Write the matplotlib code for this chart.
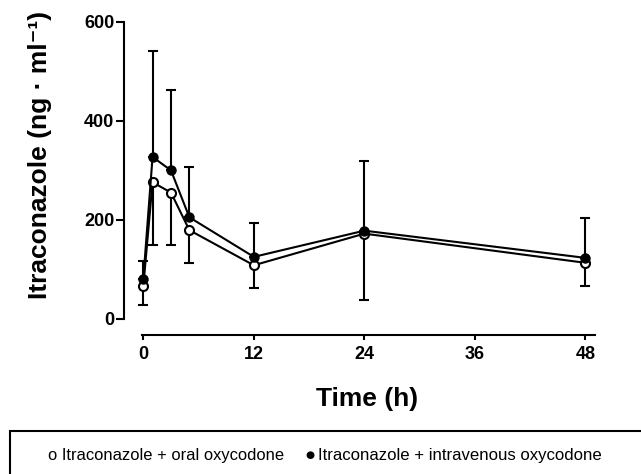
import matplotlib
matplotlib.use("Agg")
import matplotlib.pyplot as plt
from matplotlib.patches import Rectangle

plt.rcParams['font.family'] = ['Liberation Sans', 'DejaVu Sans']

# data (mean, one-sided SD)
time_h = [0, 1, 3, 5, 12, 24, 48]
oral_mean = [66, 276, 255, 179, 108, 172, 113]
oral_sd = [39, 127, 106, 67, 45, 135, 46]
iv_mean = [81, 327, 300, 205, 125, 178, 123]
iv_sd = [36, 214, 162, 102, 69, 141, 80]

x_ticks = [0, 12, 24, 36, 48]
y_ticks = [0, 200, 400, 600]

fig = plt.figure(figsize=(6.41, 4.74), dpi=100)
ax = fig.add_axes([124 / 641, 139 / 474, 471 / 641, 313 / 474])

zeros = [0] * len(time_h)

# open circles: error bars downward
ax.errorbar(time_h, oral_mean, yerr=[oral_sd, zeros], fmt='o', color='black',
            ecolor='black', elinewidth=1.5, capsize=3.6, capthick=1.5,
            markersize=6.5, markerfacecolor='white', markeredgecolor='black',
            markeredgewidth=1.5, linestyle='-', linewidth=1.5, zorder=3)
# filled circles: error bars upward
ax.errorbar(time_h, iv_mean, yerr=[zeros, iv_sd], fmt='o', color='black',
            ecolor='black', elinewidth=1.5, capsize=3.6, capthick=1.5,
            markersize=6.5, markerfacecolor='black', markeredgecolor='black',
            linestyle='-', linewidth=1.5, zorder=4)

ax.set_xlim(-2.1, 49.05)
ax.set_ylim(-33, 600)
ax.set_xticks(x_ticks)
ax.set_yticks(y_ticks)

for s in ['top', 'right']:
    ax.spines[s].set_visible(False)
ax.spines['left'].set_linewidth(1.5)
ax.spines['bottom'].set_linewidth(1.5)
ax.spines['left'].set_bounds(0, 600)
ax.spines['bottom'].set_bounds(-0.15, 49.05)

ax.tick_params(axis='y', length=5.5, width=1.5, pad=1.5, labelsize=13)
ax.tick_params(axis='x', length=3.8, width=1.5, pad=4, labelsize=13)
for lab in ax.get_xticklabels() + ax.get_yticklabels():
    lab.set_fontweight('bold')

fig.text(367 / 641, (474 - 406) / 474, 'Time (h)', ha='center', va='baseline',
         fontsize=19, fontweight='bold')
fig.text(40 / 641, (474 - 155) / 474, 'Itraconazole (ng \u00b7 ml\u207b\u00b9)',
         ha='center', va='center', rotation=90, fontsize=19, fontweight='bold')

# legend box at the bottom
box = Rectangle((10 / 641, -0.1), 1.0, (474 - 431) / 474 + 0.1, transform=fig.transFigure,
                facecolor='none', edgecolor='black', linewidth=1.5, clip_on=False)
fig.patches.append(box)
base_y = (474 - 460) / 474
fig.text(48 / 641, base_y, 'o Itraconazole + oral oxycodone',
         ha='left', va='baseline', fontsize=11.85)
fig.text(309.5 / 641, (474 - 455) / 474, '\u25cf', ha='center', va='center', fontsize=7.5,
         family='DejaVu Sans')
fig.text(318 / 641, base_y, 'Itraconazole + intravenous oxycodone',
         ha='left', va='baseline', fontsize=12.1)

fig.savefig('out.png', dpi=100)
